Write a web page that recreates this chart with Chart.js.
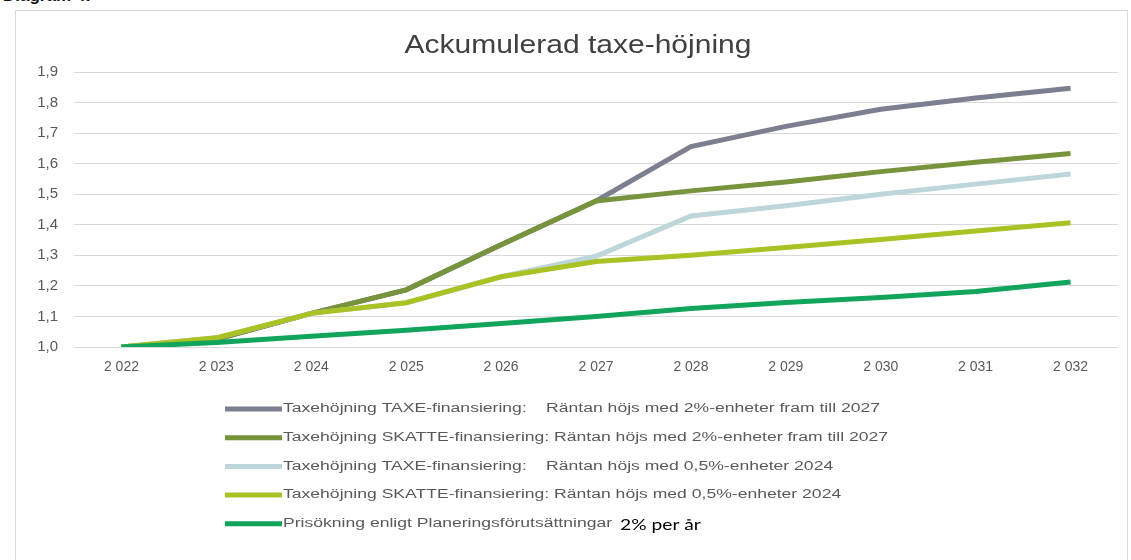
<!DOCTYPE html>
<html>
<head>
<title>Ackumulerad taxe-höjning</title>
<style>
    body { margin: 0; background: #fff; width: 1131px; height: 560px; overflow: hidden; position: relative; }
    #caption { position: absolute; left: 3px; top: -14px; font: bold 17px 'Liberation Sans', Arial, sans-serif; color: #111; }
    #frame { position: absolute; left: 15px; top: 10px; width: 1111px; height: 600px; border: 1px solid #d9d9d9; }
    #wrap { position: absolute; left: 16px; top: 11px; width: 1110px; height: 549px; }
</style>
</head>
<body>
<div id="caption">Diagram 4:</div>
<div id="frame"></div>
<div id="wrap"><canvas id="chart"></canvas></div>

<script src="https://cdn.jsdelivr.net/npm/chart.js"></script>
<script>
    const years = ['2 022', '2 023', '2 024', '2 025', '2 026', '2 027', '2 028', '2 029', '2 030', '2 031', '2 032'];

    const taxe2 =   [1.00, 1.025, 1.11, 1.187, 1.335, 1.478, 1.656, 1.722, 1.778, 1.815, 1.847];
    const skatte2 = [1.00, 1.025, 1.11, 1.187, 1.335, 1.478, 1.511, 1.540, 1.574, 1.605, 1.633];
    const taxe05 =  [1.00, 1.030, 1.11, 1.145, 1.230, 1.297, 1.429, 1.462, 1.500, 1.533, 1.566];
    const skatte05 = [1.00, 1.030, 1.11, 1.145, 1.230, 1.280, 1.300, 1.326, 1.352, 1.380, 1.407];
    const pris2 =   [1.00, 1.015, 1.035, 1.055, 1.077, 1.100, 1.126, 1.146, 1.162, 1.182, 1.213];

    const yTicks = [1.0, 1.1, 1.2, 1.3, 1.4, 1.5, 1.6, 1.7, 1.8, 1.9];

    const chartTitle = 'Ackumulerad taxe-höjning';
    const legendPrefix = [
        'Taxehöjning TAXE-finansiering:',
        'Taxehöjning SKATTE-finansiering:',
        'Taxehöjning TAXE-finansiering:',
        'Taxehöjning SKATTE-finansiering:',
        'Prisökning enligt Planeringsförutsättningar'
    ];
    const legendSuffix = [
        'Räntan höjs med 2%-enheter fram till 2027',
        'Räntan höjs med 2%-enheter fram till 2027',
        'Räntan höjs med 0,5%-enheter 2024',
        'Räntan höjs med 0,5%-enheter 2024',
        ''
    ];
    const legendNote = '2% per år';

    const colors = ['#7b7f8f', '#77933c', '#bcd6d9', '#a9c224', '#10a55a'];
    const series = [taxe2, skatte2, taxe05, skatte05, pris2];

    const FONT = "'Liberation Sans', Arial, sans-serif";

    // the source picture is a bit wide, so text gets squeezed out horizontally
    function wideText(ctx, text, x, y, sx) {
        ctx.save();
        ctx.translate(x, y);
        ctx.scale(sx, 1);
        ctx.fillText(text, 0, 0);
        ctx.restore();
    }

    const titleAndLegend = {
        id: 'titleAndLegend',
        afterDraw(chart) {
            const ctx = chart.ctx;
            ctx.save();

            // title
            ctx.font = '25px ' + FONT;
            ctx.fillStyle = '#404040';
            ctx.textBaseline = 'middle';
            const tw = ctx.measureText(chartTitle).width * 1.2;
            wideText(ctx, chartTitle, 562 - tw / 2, 35, 1.2);

            // legend, one row per series
            const x0 = 209, x1 = 266, tx = 267;
            const y0 = 398, step = 28.7;
            ctx.font = '12px ' + FONT;
            const stretch = 605 / ctx.measureText(legendPrefix[1] + ' ' + legendSuffix[1]).width;
            // TAXE rows use a tab stop a little left of the SKATTE text
            const alignX = tx + ctx.measureText(legendPrefix[1] + ' ').width * stretch - 8;
            chart.data.datasets.forEach((ds, i) => {
                const y = y0 + i * step;
                ctx.strokeStyle = ds.borderColor;
                ctx.lineWidth = 5;
                ctx.lineCap = 'butt';
                ctx.beginPath();
                ctx.moveTo(x0, y);
                ctx.lineTo(x1, y);
                ctx.stroke();

                ctx.fillStyle = '#595959';
                ctx.font = '12px ' + FONT;
                wideText(ctx, legendPrefix[i], tx, y, stretch);
                const pw = ctx.measureText(legendPrefix[i]).width * stretch;
                if (legendSuffix[i]) {
                    const sx = (i % 2 === 0) ? alignX : tx + ctx.measureText(legendPrefix[i] + ' ').width * stretch;
                    wideText(ctx, legendSuffix[i], sx, y, stretch);
                } else {
                    ctx.fillStyle = '#000';
                    ctx.font = '16px Lato, ' + FONT;
                    wideText(ctx, legendNote, tx + pw + 8, y + 1, 1.2);
                }
            });
            ctx.restore();
        }
    };

    const ctx = document.getElementById('chart').getContext('2d');
    new Chart(ctx, {
        type: 'line',
        data: {
            labels: years,
            datasets: series.map((d, i) => ({
                label: legendPrefix[i] + ' ' + legendSuffix[i],
                data: d,
                borderColor: colors[i],
                backgroundColor: colors[i],
                borderWidth: 5,
                borderCapStyle: 'butt',
                pointRadius: 0,
                tension: 0,
                order: series.length - i
            }))
        },
        options: {
            responsive: true,
            maintainAspectRatio: false,
            animation: false,
            layout: { padding: { left: 13, right: 8, top: 61, bottom: 183 } },
            plugins: {
                legend: { display: false },
                tooltip: { enabled: false },
                title: { display: false }
            },
            scales: {
                x: {
                    offset: true,
                    grid: { display: false, drawTicks: false },
                    border: { display: false },
                    ticks: { color: '#595959', font: { family: FONT, size: 14 }, padding: 12, maxRotation: 0, autoSkip: false },
                    afterFit: s => { s.height = 30; }
                },
                y: {
                    min: 1.0,
                    max: 1.9,
                    afterBuildTicks: s => { s.ticks = yTicks.map(v => ({ value: v })); },
                    grid: { color: '#d9d9d9', lineWidth: 1, drawTicks: false },
                    border: { display: false },
                    ticks: {
                        color: '#595959',
                        font: { family: FONT, size: 15 },
                        padding: 16,
                        callback: v => v.toFixed(1).replace('.', ',')
                    },
                    afterFit: s => { s.width = 45; }
                }
            }
        },
        plugins: [titleAndLegend]
    });
</script>
</body>
</html>
